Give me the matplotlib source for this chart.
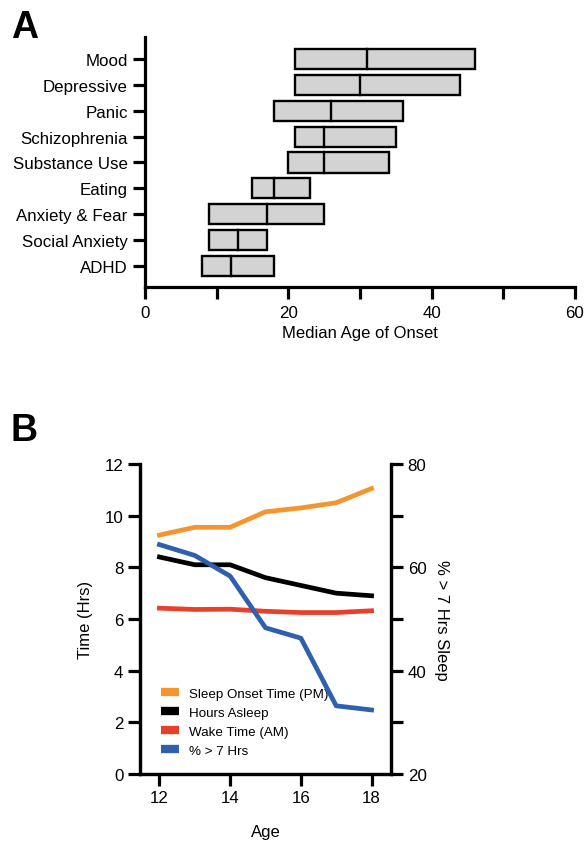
import matplotlib
matplotlib.use("Agg")
import matplotlib.pyplot as plt
from matplotlib.ticker import MultipleLocator

plt.rcParams['font.family'] = ['Liberation Sans', 'DejaVu Sans']

# ---- Panel A data: age of onset ranges ----
disorders = ["Mood", "Depressive", "Panic", "Schizophrenia", "Substance Use",
             "Eating", "Anxiety & Fear", "Social Anxiety", "ADHD"]
onset_low = [21, 21, 18, 21, 20, 15, 9, 9, 8]
onset_median = [31, 30, 26, 25, 25, 18, 17, 13, 12]
onset_high = [46, 44, 36, 35, 34, 23, 25, 17, 18]

# ---- Panel B data: sleep by age ----
ages = [12, 13, 14, 15, 16, 17, 18]
sleep_onset = [9.25, 9.55, 9.55, 10.15, 10.3, 10.5, 11.05]
hours_asleep = [8.4, 8.1, 8.1, 7.6, 7.3, 7.0, 6.9]
wake_time = [6.42, 6.37, 6.38, 6.3, 6.25, 6.25, 6.32]
pct_over_7 = [64.4, 62.3, 58.3, 48.3, 46.3, 33.2, 32.4]

SPINE_W = 2.3
TICK_FS = 12.2
LABEL_FS = 12
TICK_LEN = 8.5

fig = plt.figure(figsize=(5.87, 8.45), dpi=100)

# ===========================
# PANEL A
# ===========================
axA = fig.add_axes([0.247, 0.659, 0.7325, 0.296])
n = len(disorders)
ypos = list(range(n - 1, -1, -1))
widths = [h - l for l, h in zip(onset_low, onset_high)]
axA.barh(ypos, widths, left=onset_low, height=0.78, color="#d3d3d3",
         edgecolor="black", linewidth=1.7, zorder=2)
for y, m in zip(ypos, onset_median):
    axA.plot([m, m], [y - 0.39, y + 0.39], color="black", lw=1.7, zorder=3)

axA.set_xlim(0, 60)
axA.set_ylim(-0.82, n - 1 + 0.85)
axA.set_yticks(ypos)
axA.set_yticklabels(disorders, fontsize=TICK_FS)
axA.xaxis.set_major_locator(MultipleLocator(20))
axA.xaxis.set_minor_locator(MultipleLocator(10))
axA.set_xlabel("Median Age of Onset", fontsize=LABEL_FS, labelpad=4)
for s in ["top", "right"]:
    axA.spines[s].set_visible(False)
for s in ["left", "bottom"]:
    axA.spines[s].set_linewidth(SPINE_W)
axA.tick_params(axis="both", which="both", width=SPINE_W, length=TICK_LEN,
                labelsize=TICK_FS, direction="out")
axA.tick_params(axis="x", which="major", pad=4)
axA.tick_params(axis="y", pad=4)

fig.text(0.018, 0.967, "A", fontsize=27, fontweight="bold", va="center")

# ===========================
# PANEL B
# ===========================
axB = fig.add_axes([0.2385, 0.0828, 0.4276, 0.3669])
axB.plot(ages, sleep_onset, color="#f39530", lw=3.4, label="Sleep Onset Time (PM)")
axB.plot(ages, hours_asleep, color="black", lw=3.4, label="Hours Asleep")
axB.plot(ages, wake_time, color="#e8402a", lw=3.4, label="Wake Time (AM)")

axB2 = axB.twinx()
axB2.plot(ages, pct_over_7, color="#2f5fad", lw=3.4, label="% > 7 Hrs")

axB.set_xlim(11.45, 18.55)
axB.set_ylim(0, 12)
axB2.set_ylim(20, 80)
axB.set_xticks([12, 14, 16, 18])
axB.yaxis.set_major_locator(MultipleLocator(2))
axB2.yaxis.set_major_locator(MultipleLocator(20))
axB2.yaxis.set_minor_locator(MultipleLocator(10))

axB.set_xlabel("Age", fontsize=LABEL_FS, labelpad=14)
axB.set_ylabel("Time (Hrs)", fontsize=LABEL_FS, labelpad=8)
axB2.set_ylabel("% > 7 Hrs Sleep", fontsize=LABEL_FS, rotation=270, labelpad=16)

for ax in (axB, axB2):
    ax.spines["top"].set_visible(False)
    for s in ["left", "right", "bottom"]:
        ax.spines[s].set_linewidth(SPINE_W)
    ax.tick_params(axis="both", which="both", width=SPINE_W, length=TICK_LEN,
                   labelsize=TICK_FS, direction="out")
axB.tick_params(axis="x", pad=3)

handles = axB.get_legend_handles_labels()[0] + axB2.get_legend_handles_labels()[0]
labels = [h.get_label() for h in handles]
leg = axB.legend(handles, labels, loc="lower left", bbox_to_anchor=(0.085, 0.055),
                 frameon=False, fontsize=9.6, handlelength=1.35,
                 handletextpad=0.75, labelspacing=0.5, borderaxespad=0,
                 borderpad=0)
for line in leg.get_lines():
    line.set_linewidth(6)
    line.set_solid_capstyle("butt")

fig.text(0.018, 0.49, "B", fontsize=27, fontweight="bold", va="center")

fig.savefig("out.png", dpi=100)
